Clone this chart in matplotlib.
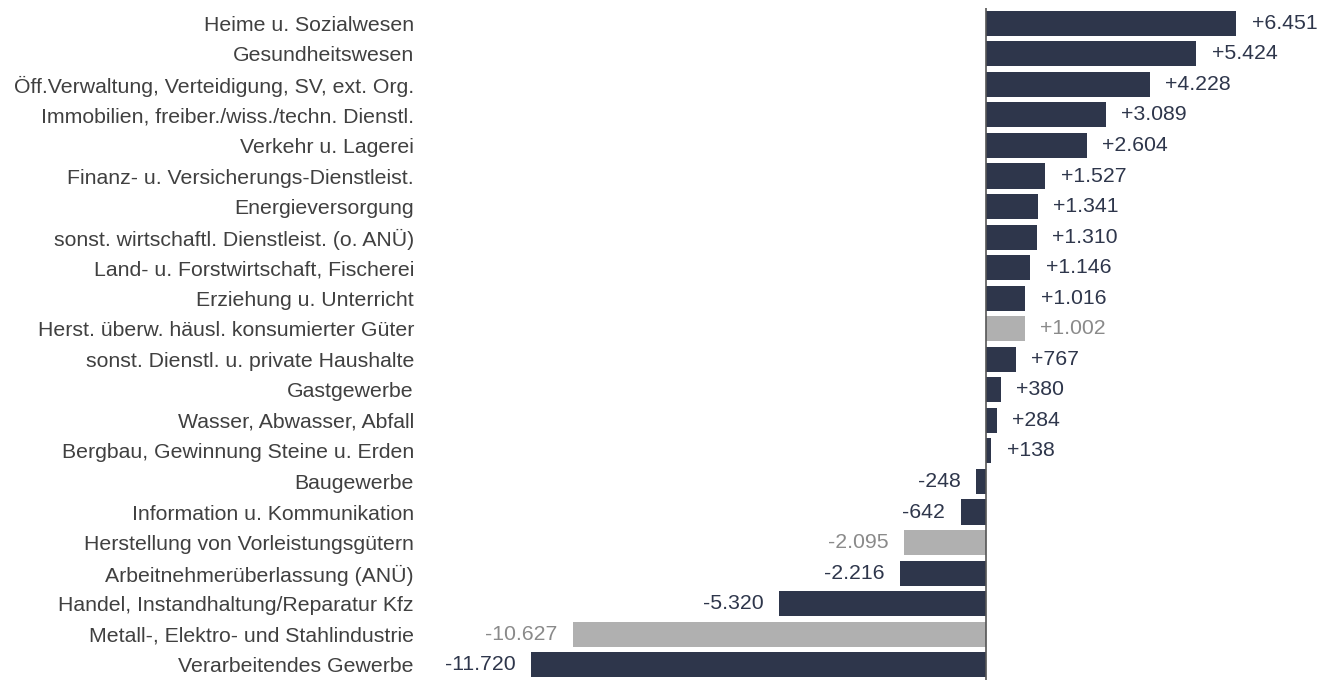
import matplotlib.pyplot as plt

plt.rcParams['font.family'] = ['Liberation Sans', 'DejaVu Sans']

# Data (change in employment, top to bottom)
categories = [
    'Heime u. Sozialwesen',
    'Gesundheitswesen',
    'Öff.Verwaltung, Verteidigung, SV, ext. Org.',
    'Immobilien, freiber./wiss./techn. Dienstl.',
    'Verkehr u. Lagerei',
    'Finanz- u. Versicherungs-Dienstleist.',
    'Energieversorgung',
    'sonst. wirtschaftl. Dienstleist. (o. ANÜ)',
    'Land- u. Forstwirtschaft, Fischerei',
    'Erziehung u. Unterricht',
    'Herst. überw. häusl. konsumierter Güter',
    'sonst. Dienstl. u. private Haushalte',
    'Gastgewerbe',
    'Wasser, Abwasser, Abfall',
    'Bergbau, Gewinnung Steine u. Erden',
    'Baugewerbe',
    'Information u. Kommunikation',
    'Herstellung von Vorleistungsgütern',
    'Arbeitnehmerüberlassung (ANÜ)',
    'Handel, Instandhaltung/Reparatur Kfz',
    'Metall-, Elektro- und Stahlindustrie',
    'Verarbeitendes Gewerbe',
]
values = [6451, 5424, 4228, 3089, 2604, 1527, 1341, 1310, 1146, 1016, 1002,
          767, 380, 284, 138, -248, -642, -2095, -2216, -5320, -10627, -11720]
# sub-sectors of manufacturing are shown in grey
sub_sector = ['Herst. überw. häusl. konsumierter Güter',
              'Herstellung von Vorleistungsgütern',
              'Metall-, Elektro- und Stahlindustrie']

navy = '#2e364b'
grey = '#b0b0b0'
grey_text = '#8a8a8a'
fs = 15.3


def fmt(v):
    s = f'{abs(v):,}'.replace(',', '.')
    return ('+' if v > 0 else '-') + s


fig = plt.figure(figsize=(13.3, 6.8), dpi=100)
ax = fig.add_axes([425 / 1330, 0, 905 / 1330, 672 / 680])

y = list(range(len(categories)))[::-1]
colors = [grey if c in sub_sector else navy for c in categories]
ax.barh(y, values, height=0.82, color=colors)

ax.set_xlim(-14.45e3, 8.87e3)
ax.set_ylim(-0.5, len(categories) - 0.5)
ax.axvline(0, color='#555555', lw=1.2)

off = 400
for yi, v, c in zip(y, values, categories):
    tc = grey_text if c in sub_sector else navy
    if v > 0:
        ax.text(v + off, yi, fmt(v), va='center', ha='left', fontsize=fs, color=tc)
    else:
        ax.text(v - off, yi, fmt(v), va='center', ha='right', fontsize=fs, color=tc)

ax.set_yticks(y)
ax.set_yticklabels(categories, fontsize=fs, color='#404040')
ax.tick_params(axis='y', length=0, pad=8)
ax.set_xticks([])
for s in ax.spines.values():
    s.set_visible(False)

fig.savefig('out.png', dpi=100)
